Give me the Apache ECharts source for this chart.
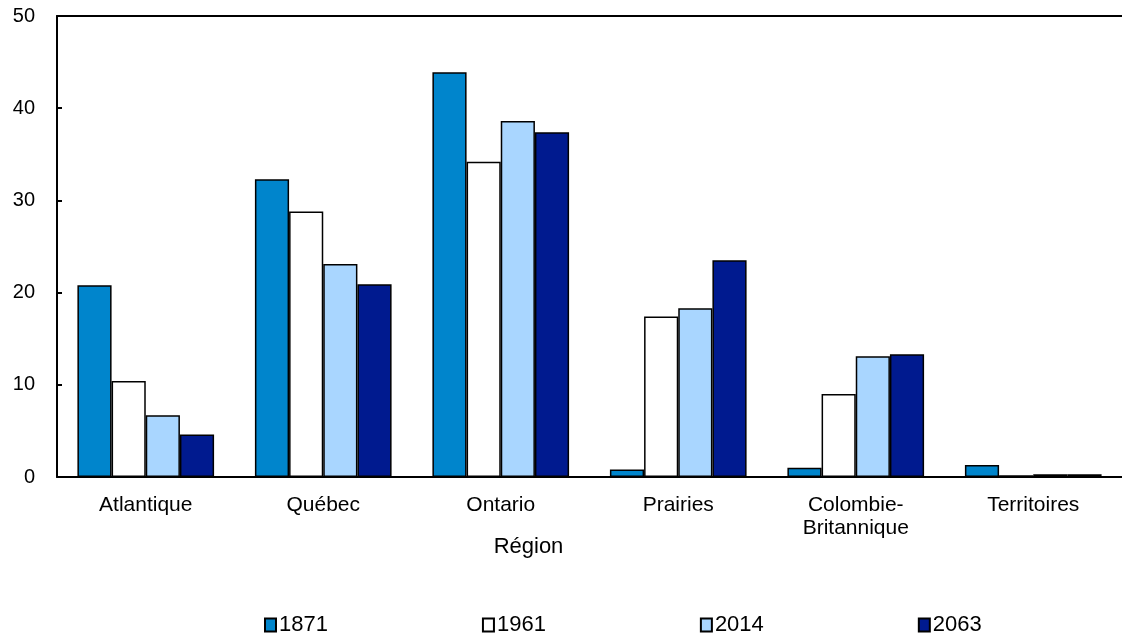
<!DOCTYPE html>
<html><head><meta charset="utf-8">
<script src="https://cdn.jsdelivr.net/npm/echarts@6/dist/echarts.min.js"></script>
<style>html,body{margin:0;padding:0;background:#fff}#c{width:1122px;height:636px}</style>
</head><body><div id="c"></div>
<script>
var categories = ['Atlantique', 'Québec', 'Ontario', 'Prairies', 'Colombie-\nBritannique', 'Territoires'];
var years = ['1871', '1961', '2014', '2063'];
var s1871 = [20.8, 32.3, 43.9, 0.8, 1.0, 1.3];
var s1961 = [10.4, 28.8, 34.2, 17.4, 9.0, 0.2];
var s2014 = [6.7, 23.1, 38.6, 18.3, 13.1, 0.3];
var s2063 = [4.6, 20.9, 37.4, 23.5, 13.3, 0.3];
var yTicks = [0, 10, 20, 30, 40, 50];
var colors = ['#0085CC', '#FFFFFF', '#A9D6FF', '#001A8F'];
var seriesData = [s1871, s1961, s2014, s2063];

var font = 'Arial, "Liberation Sans", sans-serif';
var chart = echarts.init(document.getElementById('c'));
chart.setOption({
  animation: false,
  textStyle: {fontFamily: font},
  grid: {left: 57, right: 0, top: 16, bottom: 159},
  legend: {
    data: years, left: 259, top: 609, itemWidth: 11, itemHeight: 13, itemGap: 154, icon: 'rect',
    textStyle: {fontSize: 22, color: '#000', fontFamily: font, padding: [0,0,0,-2]},
    itemStyle: {borderColor: '#000', borderWidth: 2}
  },
  xAxis: [{
    type: 'category', data: categories,
    axisLine: {lineStyle: {color: '#000', width: 2}},
    axisTick: {show: false},
    axisLabel: {color: '#000', fontSize: 21, margin: 17, lineHeight: 23, fontFamily: font},
    name: 'Région', nameLocation: 'middle', nameGap: 59, nameMoveOverlap: false,
    nameTextStyle: {color: '#000', fontSize: 22, fontFamily: font, padding: [0, 122, 0, 0]}
  }, {
    type: 'category', data: categories, position: 'top',
    axisLine: {show: true, lineStyle: {color: '#000', width: 2}},
    axisTick: {show: false}, axisLabel: {show: false}
  }],
  yAxis: {
    type: 'value', min: yTicks[0], max: yTicks[yTicks.length-1], interval: 10,
    axisLine: {show: true, lineStyle: {color: '#000', width: 2}},
    axisTick: {show: true, inside: true, length: 5, lineStyle: {color: '#000', width: 2}},
    splitLine: {show: false},
    axisLabel: {color: '#000', fontSize: 20, margin: 22, fontFamily: font}
  },
  series: years.map(function(y, i){
    return {
      name: y, type: 'bar', data: seriesData[i],
      barGap: '0%', barCategoryGap: '23%',
      itemStyle: {color: colors[i], borderColor: '#000', borderWidth: 1.5}
    };
  })
});
</script></body></html>
